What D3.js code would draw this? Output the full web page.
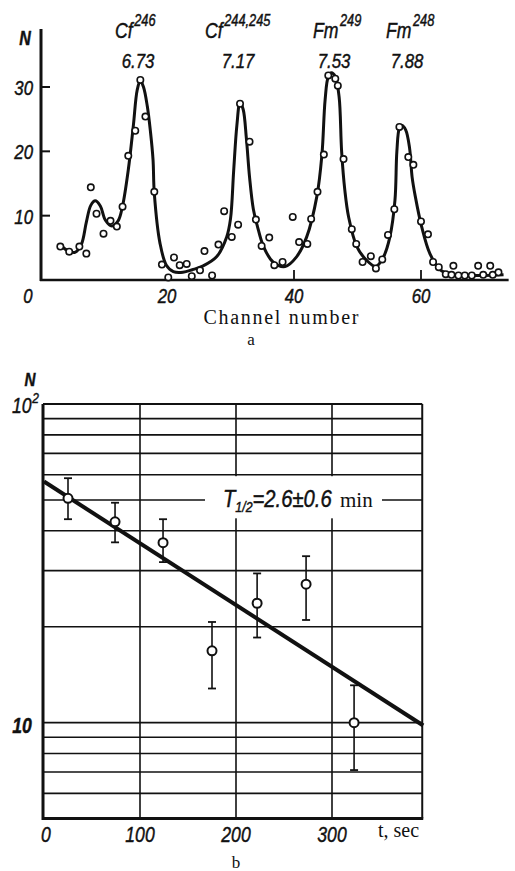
<!DOCTYPE html>
<html><head><meta charset="utf-8">
<script src="https://cdn.jsdelivr.net/npm/d3@7"></script>
<style>
html,body{margin:0;padding:0;background:#fff;}
svg{display:block;}
.it{font-family:"Liberation Sans","Arial",sans-serif;font-style:italic;fill:#111;stroke:#111;stroke-width:0.45;}
.sf{font-family:"Liberation Serif","DejaVu Serif",serif;fill:#111;}
</style></head>
<body>
<script>
// ---------- Panel a: alpha spectrum ----------
const pointCh = [3.2,4.6,6.2,7.3,8.0,8.9,10.0,11.1,12.1,13.0,13.9,15.0,15.8,16.6,18.0,19.2,20.2,21.1,22.0,23.1,23.9,25.2,25.9,27.1,28.1,29.0,30.2,31.2,31.5,33.0,34.0,34.9,36.1,36.9,38.2,39.8,40.8,42.1,42.7,43.7,44.7,45.4,46.5,46.9,47.8,49.1,49.8,50.8,52.1,52.9,53.9,54.8,55.8,56.6,58.0,58.8,60.0,61.1,61.9,62.8,63.9,64.8,65.1,65.9,66.9,68.0,69.0,69.8,70.9,71.3,72.2];
const pointN  = [5.2,4.4,5.2,4.1,14.4,10.3,7.2,9.2,8.3,11.4,19.3,23.2,31.1,25.4,13.7,2.4,0.4,3.5,2.3,2.5,0.6,1.5,4.5,0.7,5.5,10.7,6.7,8.6,27.4,21.5,9.4,5.3,6.6,2.3,2.8,9.8,5.9,5.6,9.5,13.7,19.5,31.8,31.3,30.2,18.8,7.9,5.6,2.8,3.7,1.8,3.2,7.0,11.0,23.8,19.1,17.9,9.1,7.1,2.8,2.0,0.9,0.8,2.2,0.7,0.7,0.7,2.2,0.8,2.2,0.8,1.2];
const curveCh = [3.2,4.5,5.5,6.5,7.3,8.0,8.7,9.5,10.3,11.3,12.3,13.0,13.9,14.7,15.3,15.8,16.3,16.9,17.4,17.8,18.0,18.9,19.9,21.0,22.5,24.0,25.7,27.8,29.4,30.0,30.5,31.0,31.5,32.0,32.5,33.0,33.6,34.2,35.2,36.7,38.6,40.4,42.0,43.6,44.4,44.9,45.4,45.9,46.5,47.1,47.5,48.0,48.6,49.9,51.4,52.9,54.1,55.1,55.9,56.2,56.6,57.0,57.6,58.2,58.6,59.1,60.1,61.4,63.0,64.6,67.0,70.0,73.0];
const curveN  = [5.4,4.5,4.3,5.5,9.0,11.6,12.3,11.5,9.3,8.4,9.2,11.5,17.1,24.0,29.5,31.0,30.0,27.0,23.0,18.7,13.5,5.7,2.3,1.3,1.2,1.6,2.2,3.6,6.7,9.5,17.0,24.0,27.6,26.5,22.0,16.0,11.0,8.5,5.2,2.8,2.1,3.6,6.7,13.0,19.5,28.0,31.6,32.2,31.6,28.5,20.0,14.0,9.8,5.2,3.1,2.1,3.6,6.7,12.4,20.0,23.6,24.0,23.3,20.5,16.0,13.0,8.3,4.1,1.6,0.9,0.7,0.7,0.8];
const xTickVals = [0,20,40,60];
const yTickVals = [10,20,30];
const peakNames = ["Cf","Cf","Fm","Fm"];
const peakMass  = ["246","244,245","249","248"];
const peakEnergy = ["6.73","7.17","7.53","7.88"];

// ---------- Panel b: decay curve ----------
const decayT  = [25,74,124,175,222,273,323];
const decayN  = [50.6,42.7,36.7,16.8,23.7,27.2,10.0];
const decayHi = [58.5,49.0,43.5,20.7,29.4,33.3,13.1];
const decayLo = [43.5,36.8,31.9,12.8,18.5,21.0,7.1];
const fitT = [0,395];
const fitN = [57.1,9.8];
const hGrid = [90,80,70,60,50,40,30,20,10,9,8,7,6];
const vGrid = [100,200,300];
const bXTicks = [0,100,200,300];

const svg = d3.select("body").append("svg").attr("width",515).attr("height",871);
function itext(g, x, y, parts, size, anchor, weight, sx){
  const grp = g.append("g").attr("transform",`translate(${x},${y}) scale(${sx||0.8},1)`);
  const t = grp.append("text").attr("class","it").attr("font-size",size).attr("text-anchor",anchor||"start");
  if(weight) t.attr("font-weight",weight);
  if(typeof parts === "string") { t.text(parts); return t; }
  parts.forEach(p=>{
    const s = t.append("tspan").text(p[0]);
    const o = p[1]||{};
    if(o.dx!==undefined) s.attr("dx",o.dx);
    if(o.dy!==undefined) s.attr("dy",o.dy);
    if(o.size) s.attr("font-size",o.size);
  });
  return t;
}

// ===== Panel a =====
const xa = d3.scaleLinear().domain([0,60]).range([40,421]);
const ya = d3.scaleLinear().domain([0,30]).range([280,87]);
const ga = svg.append("g");

ga.append("line").attr("x1",41).attr("x2",41).attr("y1",ya(0)+1).attr("y2",29).attr("stroke","#111").attr("stroke-width",3);
ga.append("line").attr("x1",40).attr("x2",xa(73.8)).attr("y1",ya(0)).attr("y2",ya(0)).attr("stroke","#111").attr("stroke-width",2.6);
yTickVals.forEach(v=>{
  ga.append("line").attr("x1",41).attr("x2",50).attr("y1",ya(v)).attr("y2",ya(v)).attr("stroke","#111").attr("stroke-width",2);
  itext(ga, 33, ya(v)+8, String(v), 21, "end");
});
[40,60].forEach(v=>{
  ga.append("line").attr("x1",xa(v)).attr("x2",xa(v)).attr("y1",ya(0)).attr("y2",ya(0)-10).attr("stroke","#111").attr("stroke-width",1.8);
});
xTickVals.forEach(v=>{
  itext(ga, v===0?28:xa(v), 303, String(v), 21, "middle");
});
itext(ga, 25, 45, "N", 20, "middle", "bold");
ga.append("text").attr("class","sf").attr("x",281).attr("y",324).attr("text-anchor","middle").attr("font-size",20).attr("textLength",155).text("Channel number");
ga.append("text").attr("class","sf").attr("x",251).attr("y",345).attr("text-anchor","middle").attr("font-size",17).text("a");

const peakX = [115,205,313,386];
const enX = [138,238,334,407];
peakNames.forEach((n,i)=>{
  itext(ga, peakX[i], 38, [[n,{}],[peakMass[i],{dx:2,dy:-12,size:16}]], 22, "start");
  itext(ga, enX[i], 68, peakEnergy[i], 21, "middle");
});

const curveData = curveCh.map((c,i)=>[c,curveN[i]]);
ga.append("path").datum(curveData)
  .attr("d",d3.line().x(d=>xa(d[0])).y(d=>ya(d[1])).curve(d3.curveCatmullRom.alpha(0.5)))
  .attr("fill","none").attr("stroke","#111").attr("stroke-width",3);
ga.selectAll("circle.pt").data(pointCh.map((c,i)=>[c,pointN[i]])).enter().append("circle")
  .attr("class","pt").attr("cx",d=>xa(d[0])).attr("cy",d=>ya(d[1])).attr("r",3.2)
  .attr("fill","#fff").attr("stroke","#111").attr("stroke-width",1.6);

// ===== Panel b =====
const xb = d3.scaleLinear().domain([0,300]).range([44,332]);
const yb = d3.scaleLog().domain([5,100]).range([818.6,404]);
const gb = svg.append("g");
const L = 43, R = xb(394), T = yb(100), B = yb(5);

hGrid.forEach(v=>{
  gb.append("line").attr("x1",L).attr("x2",R).attr("y1",yb(v)).attr("y2",yb(v)).attr("stroke","#111").attr("stroke-width",1.6);
});
vGrid.forEach(v=>{
  gb.append("line").attr("x1",xb(v)).attr("x2",xb(v)).attr("y1",T).attr("y2",B).attr("stroke","#111").attr("stroke-width",1.6);
});
gb.append("rect").attr("x",205).attr("y",yb(60)+1.5).attr("width",177).attr("height",yb(40)-yb(60)-14).attr("fill","#fff");
itext(gb, 223, 507, [["T",{}],["1/2",{dy:5,size:14}],["=2.6±0.6",{dy:-5}]], 23, "start", null, 0.88);
gb.append("text").attr("class","sf").attr("x",340).attr("y",507).attr("font-size",21).text("min");

gb.append("line").attr("x1",L).attr("x2",L).attr("y1",T).attr("y2",B+1.5).attr("stroke","#111").attr("stroke-width",3);
gb.append("line").attr("x1",L).attr("x2",R).attr("y1",T).attr("y2",T).attr("stroke","#111").attr("stroke-width",2);
gb.append("line").attr("x1",R).attr("x2",R).attr("y1",T).attr("y2",B).attr("stroke","#111").attr("stroke-width",2);
gb.append("line").attr("x1",L).attr("x2",R+1).attr("y1",B).attr("y2",B).attr("stroke","#111").attr("stroke-width",3);

gb.append("path").datum(fitT.map((t,i)=>[t,fitN[i]]))
  .attr("d",d3.line().x(d=>xb(d[0])).y(d=>yb(d[1])))
  .attr("fill","none").attr("stroke","#111").attr("stroke-width",4);

decayT.forEach((t,i)=>{
  const x = xb(t);
  gb.append("line").attr("x1",x).attr("x2",x).attr("y1",yb(decayHi[i])).attr("y2",yb(decayLo[i])).attr("stroke","#111").attr("stroke-width",1.6);
  [decayHi[i],decayLo[i]].forEach(v=>{
    gb.append("line").attr("x1",x-4).attr("x2",x+4).attr("y1",yb(v)).attr("y2",yb(v)).attr("stroke","#111").attr("stroke-width",1.8);
  });
  gb.append("circle").attr("cx",x).attr("cy",yb(decayN[i])).attr("r",4.5).attr("fill","#fff").attr("stroke","#111").attr("stroke-width",2);
});

itext(gb, 30, 386, "N", 19, "middle", "bold");
itext(gb, 12, 413, [["10",{}],["2",{dx:1,dy:-10,size:15}]], 22, "start");
itext(gb, 22, 733, "10", 22, "middle", "bold");
bXTicks.forEach(v=>{
  itext(gb, v===0?46:xb(v), 842, String(v), 22, "middle");
});
gb.append("text").attr("class","sf").attr("x",378).attr("y",837).attr("font-size",20).text("t, sec");
gb.append("text").attr("class","sf").attr("x",236).attr("y",868).attr("text-anchor","middle").attr("font-size",17).text("b");
</script>
</body></html>
